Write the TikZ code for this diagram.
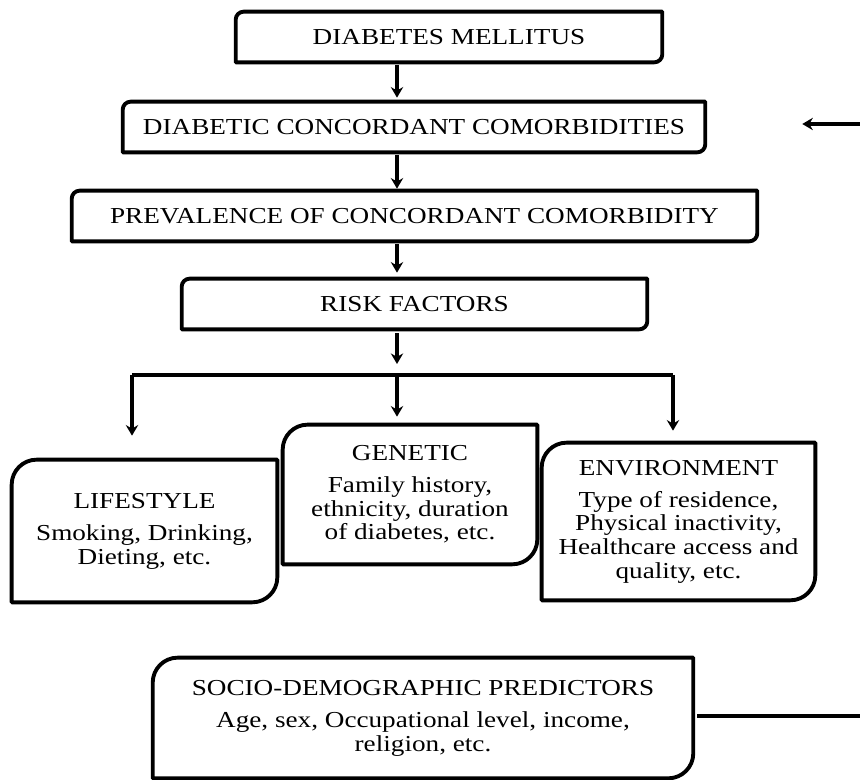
\documentclass[tikz,border=0pt]{standalone}
\usepackage{fontspec}
\setmainfont{Liberation Serif}[FakeStretch=1.19]
\usetikzlibrary{arrows.meta}

\begin{document}
\begin{tikzpicture}[
        x=0.02cm, y=0.02cm,
        txt/.style={inner sep=0pt, align=center, font=\fontsize{13}{13.4}\selectfont},
        stage/.style={txt, minimum height=1cm},
        factor/.style={txt},
        edge/.style={-{Stealth[length=6pt, width=7pt]}, line width=2.2pt},
        link/.style={line width=2.2pt},
        outline/.style={line width=2.2pt, line join=round}
    ]
        \useasboundingbox (0,0) rectangle (860,780);

        % Main chain
        \node[stage, minimum width=8.52cm] (dm) at (449,743) {DIABETES MELLITUS};
        \node[stage, minimum width=11.64cm] (dcc) at (414,653) {DIABETIC CONCORDANT COMORBIDITIES};
        \node[stage, minimum width=13.7cm] (pcc) at (414.5,564) {PREVALENCE OF CONCORDANT COMORBIDITY};
        \node[stage, minimum width=9.3cm] (risk) at (414.5,476) {RISK FACTORS};

        % Risk factor groups
        \node[factor, minimum width=5.3cm, minimum height=2.84cm] (life) at (144.5,249)
            {LIFESTYLE\\[5pt] Smoking, Drinking,\\ Dieting, etc.};
        \node[factor, minimum width=5.08cm, minimum height=2.78cm] (gen) at (410,285.5)
            {GENETIC\\[5pt] Family history,\\ ethnicity, duration\\ of diabetes, etc.};
        \node[factor, minimum width=5.46cm, minimum height=3.14cm] (env) at (678.5,258.5)
            {ENVIRONMENT\\[5pt] Type of residence,\\ Physical inactivity,\\ Healthcare access and\\ quality, etc.};

        % Predictors
        \node[factor, minimum width=10.8cm, minimum height=2.4cm] (sdp) at (423,62)
            {SOCIO-DEMOGRAPHIC PREDICTORS\\[5pt] Age, sex, Occupational level, income,\\ religion, etc.};

        % Outlines with rounded top-left and bottom-right corners
        \foreach \n/\r in {dm/0.16cm, dcc/0.16cm, pcc/0.16cm, risk/0.16cm,
                           life/0.5cm, gen/0.5cm, env/0.5cm, sdp/0.5cm}
            \draw[outline] ([yshift=-\r]\n.north west) -- (\n.south west)
                -- ([xshift=-\r]\n.south east) arc[start angle=-90, end angle=0, radius=\r]
                -- (\n.north east) -- ([xshift=\r]\n.north west)
                arc[start angle=90, end angle=180, radius=\r] -- cycle;

        % Fork points
        \coordinate (fork) at (397,405);
        \coordinate (forkL) at (132,405);
        \coordinate (forkR) at (673,405);
        \coordinate (fbin) at (860,656);
        \coordinate (fbout) at (860,64);

        % Edges
        \draw[edge, shorten <=0.06cm, shorten >=0.08cm] (dm.south -| fork) -- (dcc.north -| fork);
        \draw[edge, shorten <=0.06cm, shorten >=0.04cm] (dcc.south -| fork) -- (pcc.north -| fork);
        \draw[edge, shorten <=0.06cm, shorten >=0.12cm] (pcc.south -| fork) -- (risk.north -| fork);
        \draw[edge, shorten <=0.08cm, shorten >=0.22cm] (risk.south -| fork) -- (fork);

        \draw[link] (forkL) -- (forkR);
        \draw[edge, shorten >=0.48cm] (forkL) -- (forkL |- life.north);
        \draw[edge, shorten >=0.16cm] (fork) -- (fork |- gen.north);
        \draw[edge, shorten >=0.24cm] (forkR) -- (forkR |- env.north);

        \draw[edge, shorten >=1.94cm] (fbin) -- (fbin -| dcc.east);
        \draw[link, shorten <=0.08cm] (fbout -| sdp.east) -- (fbout);

    \end{tikzpicture}
\end{document}
